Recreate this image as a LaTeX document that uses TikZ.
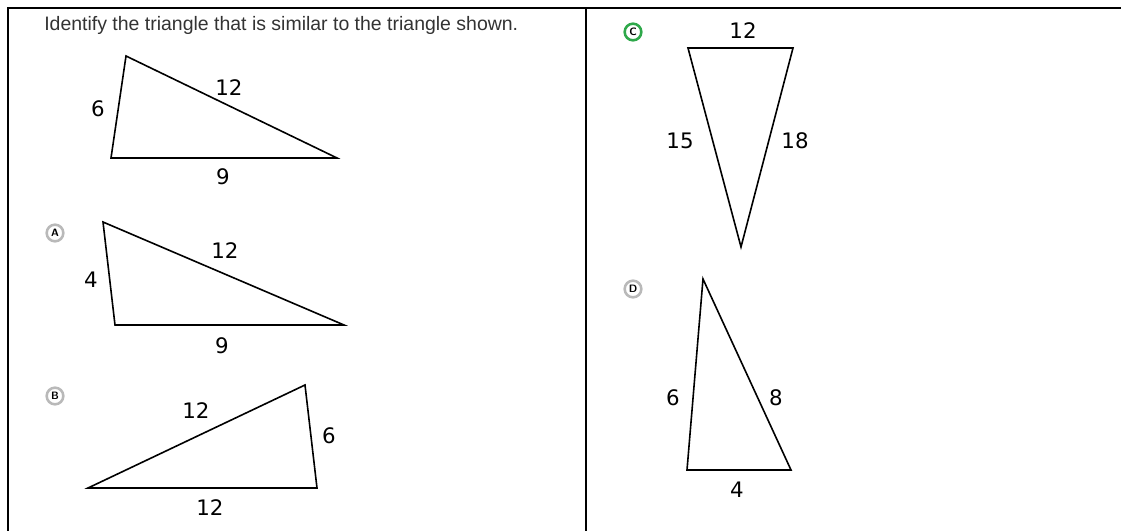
\documentclass[tikz,border=0pt]{standalone}
\usepackage{fontspec}
\setmainfont{DejaVu Sans}
\newfontfamily\titlefont{Liberation Sans}
\definecolor{titlegray}{HTML}{333333}
\definecolor{choicegreen}{HTML}{2EA84A}
\tikzset{
  tri/.style={line width=1.2pt, line join=miter},
  side/.style={font=\fontsize{16}{19}\selectfont, inner sep=0pt},
  choice/.style={circle, draw=gray!55, line width=1.9pt, inner sep=0pt,
    minimum size=12.5pt, font=\fontsize{8}{9}\sffamily\bfseries},
  frame/.style={line width=1.5pt},
}

\begin{document}
\begin{tikzpicture}[x=0.75pt, y=-0.75pt]
  \useasboundingbox (0,0) rectangle (1121,531);

  % outer frame
  \draw[frame] (8,531) -- (8,8) -- (1121,8);
  \draw[frame] (586,8) -- (586,531);

  \node[anchor=west, inner sep=0pt, text=titlegray,
    font=\titlefont\fontsize{14.6}{17}\selectfont] (title) at (44,25)
    {Identify the triangle that is similar to the triangle shown.};

  % given triangle
  \coordinate (P) at (126,56);
  \coordinate (Q) at (111,158);
  \coordinate (R) at (337,158);
  \draw[tri] (P) -- (Q) -- (R) -- cycle;
  \node[side] (pq) at (98,109) {6};
  \node[side] (pr) at (229,88) {12};
  \node[side] (qr) at (223,177) {9};

  % choice A
  \node[choice] (chA) at (55,233) {A};
  \coordinate (A1) at (103,222);
  \coordinate (A2) at (115,325);
  \coordinate (A3) at (344,325);
  \draw[tri] (A1) -- (A2) -- (A3) -- cycle;
  \node[side] (a12) at (91,280) {4};
  \node[side] (a13) at (225,251) {12};
  \node[side] (a23) at (222,346) {9};

  % choice B
  \node[choice] (chB) at (55,396) {B};
  \coordinate (B1) at (88,488);
  \coordinate (B2) at (305,385);
  \coordinate (B3) at (317,488);
  \draw[tri] (B1) -- (B2) -- (B3) -- cycle;
  \node[side] (b12) at (196,411) {12};
  \node[side] (b23) at (329,436) {6};
  \node[side] (b13) at (210,508) {12};

  % choice C
  \node[choice, draw=choicegreen] (chC) at (633,32) {C};
  \coordinate (C1) at (688,48);
  \coordinate (C2) at (793,48);
  \coordinate (C3) at (741,247);
  \draw[tri] (C1) -- (C2) -- (C3) -- cycle;
  \node[side] (c12) at (743,31) {12};
  \node[side] (c13) at (680,141) {15};
  \node[side] (c23) at (795,141) {18};

  % choice D
  \node[choice] (chD) at (633,289) {D};
  \coordinate (D1) at (703,279);
  \coordinate (D2) at (687,470);
  \coordinate (D3) at (791,470);
  \draw[tri] (D1) -- (D2) -- (D3) -- cycle;
  \node[side] (d12) at (673,398) {6};
  \node[side] (d13) at (776,398) {8};
  \node[side] (d23) at (737,490) {4};
\end{tikzpicture}
\end{document}
